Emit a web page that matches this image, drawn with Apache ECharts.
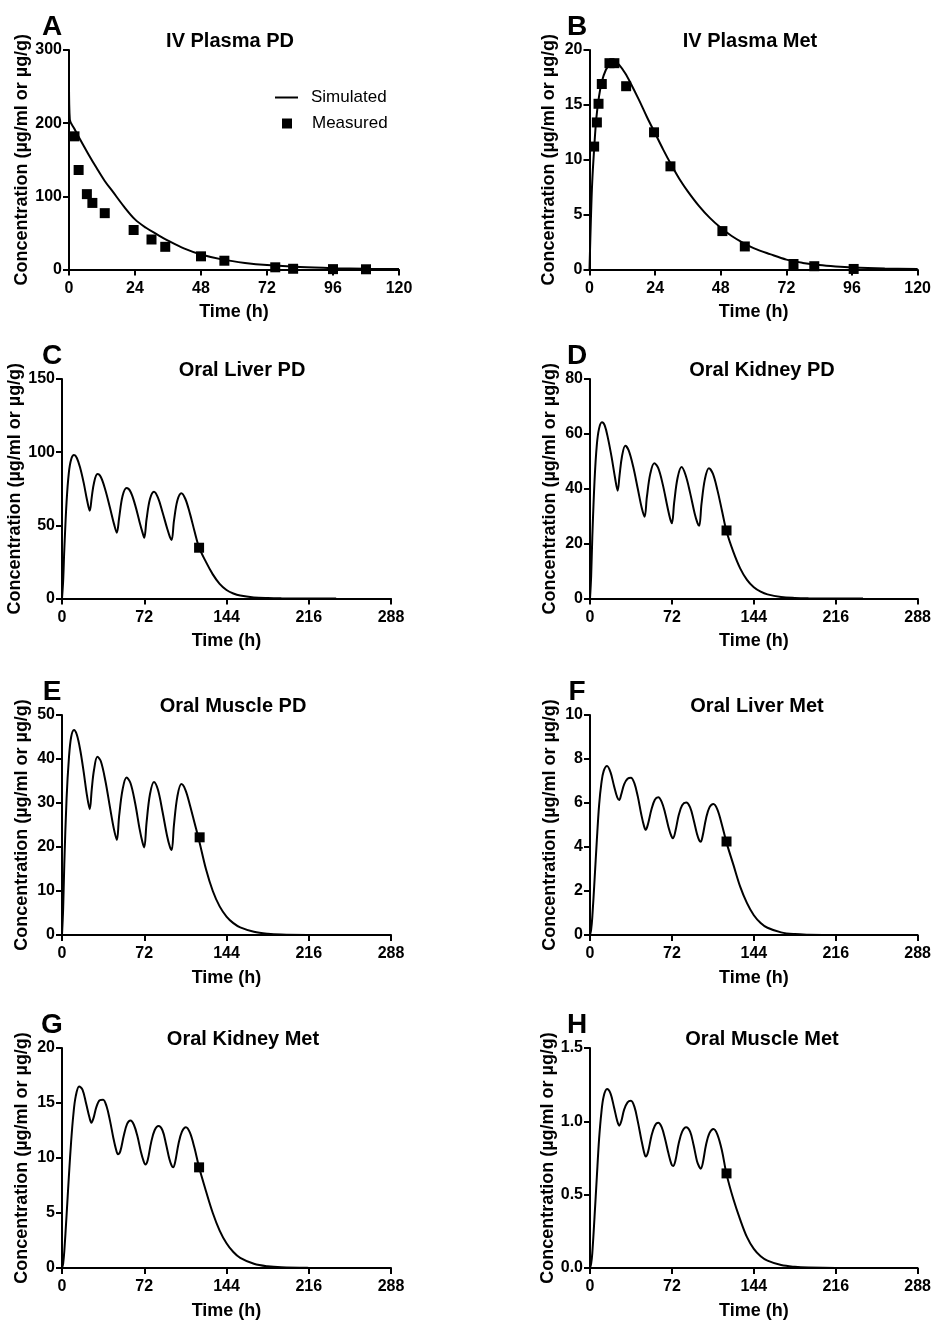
<!DOCTYPE html>
<html>
<head>
<meta charset="utf-8">
<title>PBPK panels</title>
<script src="https://cdn.jsdelivr.net/npm/echarts@6/dist/echarts.min.js"></script>
<style>
    html, body { margin: 0; padding: 0; background: #fff; }
    #myChart { width: 934px; height: 1321px; }
</style>
</head>
<body>
<div id="myChart"></div>
<script>
/////////////////////////
// data (time in h, concentration in ug/ml or ug/g)

// A - IV plasma parent drug
var timeA = [0, 0.3, 2, 4, 7, 10, 13, 16, 20, 24, 28, 32, 36, 42, 48, 56, 64, 72, 84, 96, 108, 120];
var simA = [255, 205, 192, 178, 158, 139, 121, 106, 86, 68.5, 57, 48, 39.5, 28.5, 20.5, 13.5, 9, 6, 3.3, 1.8, 1, 0.6];
var measTimeA = [2, 3.5, 6.5, 8.5, 13, 23.5, 30, 35, 48, 56.5, 75, 81.5, 96, 108];
var measA = [182, 136, 103, 91, 77, 54, 41, 31, 18, 12, 3, 1, 0.5, 0.3];

// B - IV plasma metabolite
var timeB = [0, 0.5, 1, 1.7, 2.5, 3.5, 4.5, 6, 7.5, 9.4, 11, 13, 15, 18, 21, 24, 27, 30, 33, 36, 40, 44, 48, 52, 56, 60, 66, 72, 78, 84, 90, 96, 108, 120];
var simB = [0, 4.5, 8, 11, 13.8, 15.8, 17.1, 18.2, 18.7, 18.9, 18.6, 17.9, 17.0, 15.5, 13.9, 12.4, 10.9, 9.5, 8.2, 7.1, 5.8, 4.7, 3.8, 3.05, 2.45, 1.95, 1.4, 0.9, 0.6, 0.4, 0.27, 0.18, 0.09, 0.05];
var measTimeB = [1.7, 2.7, 3.3, 4.5, 7.3, 9.1, 13.4, 23.6, 29.6, 48.6, 56.8, 74.6, 82.2, 96.6];
var measB = [11.2, 13.4, 15.1, 16.9, 18.8, 18.8, 16.7, 12.5, 9.4, 3.5, 2.1, 0.5, 0.3, 0.05];

// C, D, E - oral parent drug (doses every 24 h)
var timeOralPD = [0, 1, 2, 4, 6, 8, 10.5, 13, 16, 19, 22, 24.3, 26, 28, 31, 34, 38, 42, 45.5, 48, 50, 53, 56.5, 60, 64, 68, 70.5, 72, 74, 77, 80.5, 84, 88, 92, 94.5, 96, 98, 101, 104.5, 108, 112, 116, 120, 126, 132, 138, 144, 150, 156, 168, 180, 192, 216, 240];
var simC = [0, 12, 33, 66, 86, 95, 98, 96, 89, 79, 67, 60, 69, 79, 85, 83, 74, 62, 51, 45, 55, 70, 75.5, 73, 64, 52, 45, 41.5, 54, 68, 73, 69, 59, 48, 42, 40, 53, 67, 72, 68, 58, 46, 35, 25, 16.5, 10, 5.8, 3.4, 2, 0.75, 0.28, 0.1, 0.02, 0];
var simD = [0, 8, 22, 43, 56, 62, 64.2, 63, 58, 51.5, 44, 39.3, 45, 51.5, 55.7, 54, 48, 40, 33, 29.8, 37, 45.5, 49.3, 47.5, 41.5, 33.5, 29, 27.4, 35, 44, 47.9, 45, 38.5, 31, 27.5, 26.5, 34.5, 43.5, 47.5, 45.5, 39.5, 32, 24.5, 17, 11, 6.8, 4.1, 2.5, 1.5, 0.55, 0.2, 0.07, 0.01, 0];
var simE = [0, 6, 16, 31, 40, 45, 46.6, 45.5, 42, 37, 31.5, 28.6, 33, 37.5, 40.5, 39.5, 35, 29, 24, 21.6, 27, 33, 35.8, 34.5, 30, 24, 21, 19.9, 25.5, 32, 34.8, 33, 28, 22.5, 20, 19.3, 25, 31.5, 34.3, 33, 29.5, 25.5, 21.5, 15, 10, 6.5, 4.2, 2.7, 1.75, 0.75, 0.3, 0.12, 0.02, 0];
var measTimeC = [120];
var measC = [34.7];
var measTimeD = [120];
var measD = [24.8];
var measTimeE = [120.5];
var measE = [22.2];

// F, G, H - oral metabolite
var timeOralMet = [0, 1, 2, 4, 6, 8, 10, 12, 15, 18, 21, 24, 25.7, 27.5, 30, 33, 36, 39, 42, 45, 47.5, 49, 51, 54, 57, 60, 63, 66, 69, 71.5, 73, 75, 78, 81, 84.5, 88, 91, 94, 96, 97.3, 99, 102, 105, 108.5, 112, 116, 120, 126, 132, 138, 144, 150, 156, 168, 180, 192, 216, 240];
var simF = [0, 0.25, 0.8, 2.5, 4.3, 5.9, 6.9, 7.45, 7.68, 7.4, 6.8, 6.25, 6.14, 6.4, 6.85, 7.1, 7.15, 6.9, 6.3, 5.5, 4.95, 4.78, 5.05, 5.7, 6.15, 6.26, 6.05, 5.55, 4.9, 4.5, 4.4, 4.7, 5.45, 5.9, 6.02, 5.8, 5.25, 4.6, 4.3, 4.24, 4.5, 5.3, 5.8, 5.95, 5.7, 5.0, 4.2, 3.2, 2.2, 1.45, 0.9, 0.55, 0.33, 0.12, 0.04, 0.015, 0, 0];
var simG = [0, 0.4, 1.5, 4.8, 8.3, 11.5, 14, 15.6, 16.5, 16.2, 15.0, 13.7, 13.2, 13.6, 14.6, 15.25, 15.3, 14.7, 13.4, 11.8, 10.7, 10.35, 10.6, 12.0, 13.1, 13.4, 13.0, 12.0, 10.6, 9.7, 9.4, 9.8, 11.4, 12.5, 12.9, 12.5, 11.3, 9.9, 9.3, 9.15, 9.6, 11.3, 12.4, 12.8, 12.3, 10.9, 9.15, 7.0, 5.0, 3.4, 2.25, 1.45, 0.92, 0.38, 0.15, 0.06, 0.01, 0];
var simH = [0, 0.03, 0.1, 0.35, 0.62, 0.88, 1.06, 1.17, 1.22, 1.19, 1.1, 1.0, 0.97, 1.0, 1.08, 1.13, 1.14, 1.1, 1.0, 0.88, 0.79, 0.76, 0.79, 0.9, 0.97, 0.99, 0.96, 0.88, 0.78, 0.71, 0.695, 0.73, 0.85, 0.93, 0.96, 0.93, 0.84, 0.73, 0.69, 0.677, 0.71, 0.84, 0.92, 0.948, 0.91, 0.8, 0.64, 0.47, 0.33, 0.21, 0.13, 0.08, 0.05, 0.02, 0.008, 0.003, 0, 0];
var measTimeF = [120];
var measF = [4.25];
var measTimeG = [120];
var measG = [9.15];
var measTimeH = [120];
var measH = [0.645];

// axis ticks
var ticksIV = [0, 24, 48, 72, 96, 120];
var ticksOral = [0, 72, 144, 216, 288];

/////////////////////////

var FONT = '"Liberation Sans", Arial, Helvetica, sans-serif';
var myChart;

function pairs(xs, ys) {
    var out = [];
    for (var i = 0; i < xs.length; i++) {
        out.push([xs[i], ys[i]]);
    }
    return out;
}

// one entry per panel: where it sits and how its axes run
var panels = [
    {tag: 'A', title: 'IV Plasma PD', titleX: 230, left: 69, top: 50, width: 330, height: 219.5,
     ticks: ticksIV, yMax: 300, yStep: 100, nameGap: 37, simT: timeA, simV: simA, mT: measTimeA, mV: measA},
    {tag: 'B', title: 'IV Plasma Met', titleX: 750, left: 589.5, top: 50, width: 329, height: 219.5,
     ticks: ticksIV, yMax: 20, yStep: 5, nameGap: 31, simT: timeB, simV: simB, mT: measTimeB, mV: measB},
    {tag: 'C', title: 'Oral Liver PD', titleX: 242, left: 62, top: 379, width: 329, height: 219.5,
     ticks: ticksOral, yMax: 150, yStep: 50, nameGap: 31, simT: timeOralPD, simV: simC, mT: measTimeC, mV: measC},
    {tag: 'D', title: 'Oral Kidney PD', titleX: 762, left: 590, top: 379, width: 329, height: 219.5,
     ticks: ticksOral, yMax: 80, yStep: 20, nameGap: 31, simT: timeOralPD, simV: simD, mT: measTimeD, mV: measD},
    {tag: 'E', title: 'Oral Muscle PD', titleX: 233, left: 62, top: 715, width: 329, height: 220,
     ticks: ticksOral, yMax: 50, yStep: 10, nameGap: 31, simT: timeOralPD, simV: simE, mT: measTimeE, mV: measE},
    {tag: 'F', title: 'Oral Liver Met', titleX: 757, left: 590, top: 715, width: 329, height: 220,
     ticks: ticksOral, yMax: 10, yStep: 2, nameGap: 31, simT: timeOralMet, simV: simF, mT: measTimeF, mV: measF},
    {tag: 'G', title: 'Oral Kidney Met', titleX: 243, left: 62, top: 1048, width: 329, height: 220,
     ticks: ticksOral, yMax: 20, yStep: 5, nameGap: 31, simT: timeOralMet, simV: simG, mT: measTimeG, mV: measG},
    {tag: 'H', title: 'Oral Muscle Met', titleX: 762, left: 590, top: 1048, width: 329, height: 220,
     ticks: ticksOral, yMax: 1.5, yStep: 0.5, nameGap: 31, decimals: 1, simT: timeOralMet, simV: simH, mT: measTimeH, mV: measH}
];

function axisLine() {
    return {show: true, onZero: false, lineStyle: {color: '#000', width: 2}};
}
function axisTick() {
    return {show: true, inside: false, length: 6, lineStyle: {color: '#000', width: 2}};
}

function buildOption() {
    var grid = [], xAxis = [], yAxis = [], series = [], graphic = [];

    panels.forEach(function (p, i) {
        grid.push({left: p.left, top: p.top, width: p.width, height: p.height, containLabel: false});

        var ticks = p.ticks;
        xAxis.push({
            gridIndex: i, type: 'value',
            min: ticks[0], max: ticks[ticks.length - 1], interval: ticks[1] - ticks[0],
            name: 'Time (h)', nameLocation: 'middle', nameGap: 34,
            nameTextStyle: {color: '#000', fontFamily: FONT, fontWeight: 'bold', fontSize: 18},
            axisLine: axisLine(), axisTick: axisTick(), splitLine: {show: false},
            axisLabel: {color: '#000', fontFamily: FONT, fontWeight: 'bold', fontSize: 16, margin: 11}
        });

        var dec = p.decimals;
        yAxis.push({
            gridIndex: i, type: 'value', min: 0, max: p.yMax, interval: p.yStep,
            name: 'Concentration (\u00b5g/ml or \u00b5g/g)', nameLocation: 'middle', nameGap: p.nameGap,
            nameTextStyle: {color: '#000', fontFamily: FONT, fontWeight: 'bold', fontSize: 18},
            axisLine: axisLine(), axisTick: axisTick(), splitLine: {show: false},
            axisLabel: {
                color: '#000', fontFamily: FONT, fontWeight: 'bold', fontSize: 16, margin: 7,
                formatter: function (v) { return dec ? v.toFixed(dec) : String(v); }
            }
        });

        series.push({
            name: 'Simulated', type: 'line', xAxisIndex: i, yAxisIndex: i,
            data: pairs(p.simT, p.simV), symbol: 'none', smooth: 0.35,
            lineStyle: {color: '#000', width: 2}, itemStyle: {color: '#000'},
            silent: true, animation: false, z: 3
        });
        series.push({
            name: 'Measured', type: 'scatter', xAxisIndex: i, yAxisIndex: i,
            data: pairs(p.mT, p.mV), symbol: 'rect', symbolSize: 10,
            itemStyle: {color: '#000', opacity: 1}, silent: true, animation: false, z: 4
        });

        // panel letter and panel title
        var letterX = p.left < 300 ? 52 : 577;
        graphic.push({
            type: 'text', x: letterX, y: p.top - 23,
            style: {text: p.tag, fill: '#000', font: 'bold 28px ' + FONT,
                    align: 'center', verticalAlign: 'middle', textAlign: 'center', textVerticalAlign: 'middle'}
        });
        graphic.push({
            type: 'text', x: p.titleX, y: p.top - 9,
            style: {text: p.title, fill: '#000', font: 'bold 20px ' + FONT,
                    align: 'center', verticalAlign: 'middle', textAlign: 'center', textVerticalAlign: 'middle'}
        });
    });

    var legendText = {color: '#000', fontFamily: FONT, fontSize: 17};
    var legend = [
        {data: [{name: 'Simulated', icon: 'rect'}], left: 275, top: 89, padding: 0,
         itemWidth: 23, itemHeight: 2, selectedMode: false,
         textStyle: Object.assign({padding: [0, 0, 0, 8]}, legendText)},
        {data: [{name: 'Measured', icon: 'rect', itemStyle: {opacity: 1}}], left: 282, top: 115, padding: 0,
         itemWidth: 10, itemHeight: 10, selectedMode: false,
         textStyle: Object.assign({padding: [0, 0, 0, 15]}, legendText)}
    ];

    return {
        backgroundColor: '#fff',
        animation: false,
        textStyle: {fontFamily: FONT},
        grid: grid, xAxis: xAxis, yAxis: yAxis,
        legend: legend, series: series, graphic: graphic
    };
}

myChart = echarts.init(document.getElementById('myChart'), null, {renderer: 'canvas'});
myChart.setOption(buildOption());
</script>
</body>
</html>
